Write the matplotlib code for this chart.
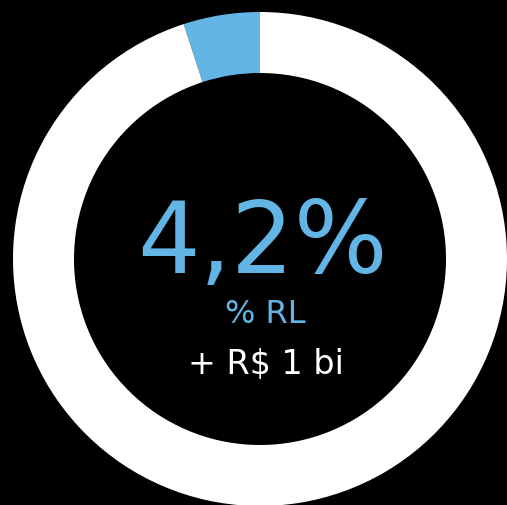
import matplotlib
matplotlib.use("Agg")
import matplotlib.pyplot as plt

labels = ["RL share", "Rest"]
values = [5.0, 95.0]
colors = ["#62b5e5", "#ffffff"]
main_label = "4,2%"
sub_label = "% RL"
value_label = "+ R$ 1 bi"

W, H = 507, 505
fig = plt.figure(figsize=(W / 100, H / 100), dpi=100, facecolor="black")
ax = fig.add_axes([0, 0, 1, 1])
ax.set_facecolor("black")

R = 247
ax.pie(values, colors=colors, startangle=90, counterclock=True,
       radius=R, center=(260, H - 259),
       wedgeprops=dict(width=R - 186, edgecolor="none", linewidth=0),
       frame=True)
ax.set_xlim(0, W)
ax.set_ylim(0, H)
ax.set_aspect("equal")
ax.axis("off")

ax.text(262.5, H - 273, main_label, color="#62b5e5", fontsize=71,
        ha="center", va="baseline", family="DejaVu Sans")
ax.text(265, H - 323, sub_label, color="#62b5e5", fontsize=23,
        ha="center", va="baseline", family="DejaVu Sans")
ax.text(265.5, H - 374, value_label, color="white", fontsize=24,
        ha="center", va="baseline", family="DejaVu Sans")

fig.savefig("out.png", dpi=100, facecolor="black")
